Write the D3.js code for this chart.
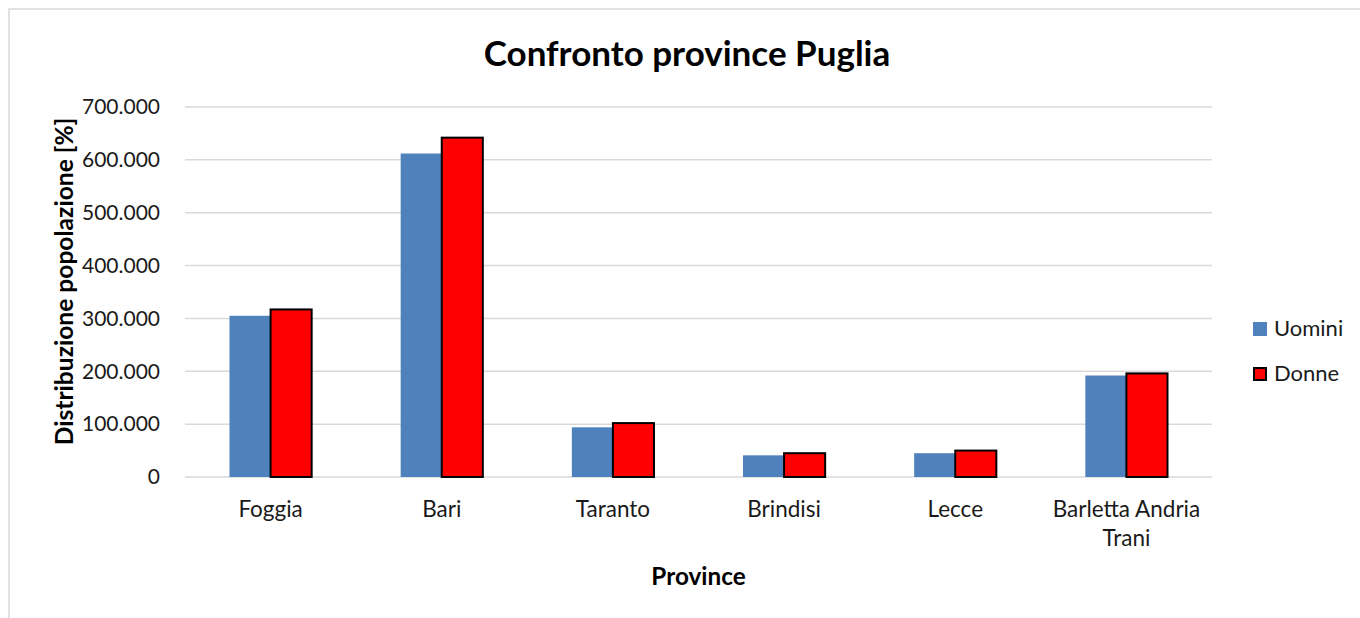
<!DOCTYPE html>
<html>
<head>
<meta charset="utf-8">
<script src="https://cdn.jsdelivr.net/npm/d3@7"></script>
<style>
  html, body { margin: 0; padding: 0; background: #ffffff; }
  svg { display: block; font-family: Lato, "Open Sans", sans-serif; }
</style>
</head>
<body>
<svg id="chart" width="1360" height="618"></svg>
<script>
// Province della Puglia e popolazione per sesso
const provinces = ["Foggia", "Bari", "Taranto", "Brindisi", "Lecce", "Barletta Andria Trani"];
const seriesNames = ["Uomini", "Donne"];
const uomini = [305000, 612000, 94000, 41000, 45000, 192000];
const donne  = [317000, 642000, 102000, 45000, 50000, 196000];
const yTicks = [0, 100000, 200000, 300000, 400000, 500000, 600000, 700000];

const colors = { Uomini: "#4F81BD", Donne: "#FF0000" };
const rows = provinces.map((p, i) => ({ province: p, Uomini: uomini[i], Donne: donne[i] }));

const svg = d3.select("#chart");
const plot = { left: 185, right: 1212, top: 107, bottom: 477 };

// Cornice dell'area grafico
svg.append("rect")
  .attr("x", 9).attr("y", 9)
  .attr("width", 1400).attr("height", 700)
  .attr("fill", "none").attr("stroke", "#d9d9d9").attr("stroke-width", 1.5);

const x0 = d3.scaleBand().domain(provinces).range([plot.left, plot.right])
  .paddingInner(0.52).paddingOuter(0.26);
const x1 = d3.scaleBand().domain(seriesNames).range([0, x0.bandwidth()]).padding(0);
const y = d3.scaleLinear().domain([0, 700000]).range([plot.bottom, plot.top]);

const fmt = v => v === 0 ? "0" : d3.format(",")(v).replace(/,/g, ".");

// Griglia orizzontale
svg.append("g")
  .selectAll("line").data(yTicks).join("line")
  .attr("x1", plot.left).attr("x2", plot.right)
  .attr("y1", d => y(d)).attr("y2", d => y(d))
  .attr("stroke", "#d9d9d9").attr("stroke-width", 1.5);

// Asse Y
const yAxis = svg.append("g")
  .attr("transform", `translate(${plot.left},0)`)
  .call(d3.axisLeft(y).tickValues(yTicks).tickFormat(fmt).tickSize(0).tickPadding(25));
yAxis.select(".domain").remove();
yAxis.selectAll("text")
  .attr("font-family", "Lato, sans-serif")
  .attr("font-size", 21).attr("fill", "#1a1a1a");

// Barre
const groups = svg.append("g").selectAll("g").data(rows).join("g")
  .attr("transform", d => `translate(${x0(d.province)},0)`);

groups.selectAll("rect")
  .data(d => seriesNames.map(s => ({ key: s, value: d[s] })))
  .join("rect")
  .attr("x", d => x1(d.key))
  .attr("y", d => y(d.value))
  .attr("width", x1.bandwidth())
  .attr("height", d => y(0) - y(d.value))
  .attr("fill", d => colors[d.key])
  .attr("stroke", d => d.key === "Donne" ? "#000000" : "none")
  .attr("stroke-width", 2);

// Etichette asse X (con a capo)
const xAxis = svg.append("g");
const wrapLines = { "Barletta Andria Trani": ["Barletta Andria", "Trani"] };
provinces.forEach(p => {
  const lines = wrapLines[p] || [p];
  const t = xAxis.append("text")
    .attr("x", x0(p) + x0.bandwidth() / 2)
    .attr("y", 517)
    .attr("text-anchor", "middle")
    .attr("font-size", 22.5).attr("fill", "#1a1a1a");
  lines.forEach((l, i) => {
    t.append("tspan").attr("x", x0(p) + x0.bandwidth() / 2)
      .attr("dy", i === 0 ? 0 : 28.5).text(l);
  });
});

// Titolo
svg.append("text")
  .attr("x", 687).attr("y", 66)
  .attr("text-anchor", "middle")
  .attr("font-size", 35).attr("font-weight", "bold").attr("fill", "#000")
  .text("Confronto province Puglia");

// Titolo asse Y
svg.append("text")
  .attr("transform", "translate(73,281.5) rotate(-90)")
  .attr("text-anchor", "middle")
  .attr("font-size", 24.6).attr("font-weight", "bold").attr("fill", "#000")
  .text("Distribuzione popolazione [%]");

// Titolo asse X
svg.append("text")
  .attr("x", (plot.left + plot.right) / 2).attr("y", 585)
  .attr("text-anchor", "middle")
  .attr("font-size", 24.3).attr("font-weight", "bold").attr("fill", "#000")
  .text("Province");

// Legenda
const legend = svg.append("g").selectAll("g").data(seriesNames).join("g")
  .attr("transform", (d, i) => `translate(1253,${322 + i * 45})`);
legend.append("rect")
  .attr("x", d => d === "Donne" ? 1 : 0).attr("y", d => d === "Donne" ? 1 : 0)
  .attr("width", d => d === "Donne" ? 12 : 14).attr("height", d => d === "Donne" ? 12 : 14)
  .attr("fill", d => colors[d])
  .attr("stroke", d => d === "Donne" ? "#000" : "none").attr("stroke-width", 2);
legend.append("text")
  .attr("x", 21).attr("y", 14)
  .attr("font-size", 22).attr("fill", "#1a1a1a")
  .text(d => d);
</script>
</body>
</html>
